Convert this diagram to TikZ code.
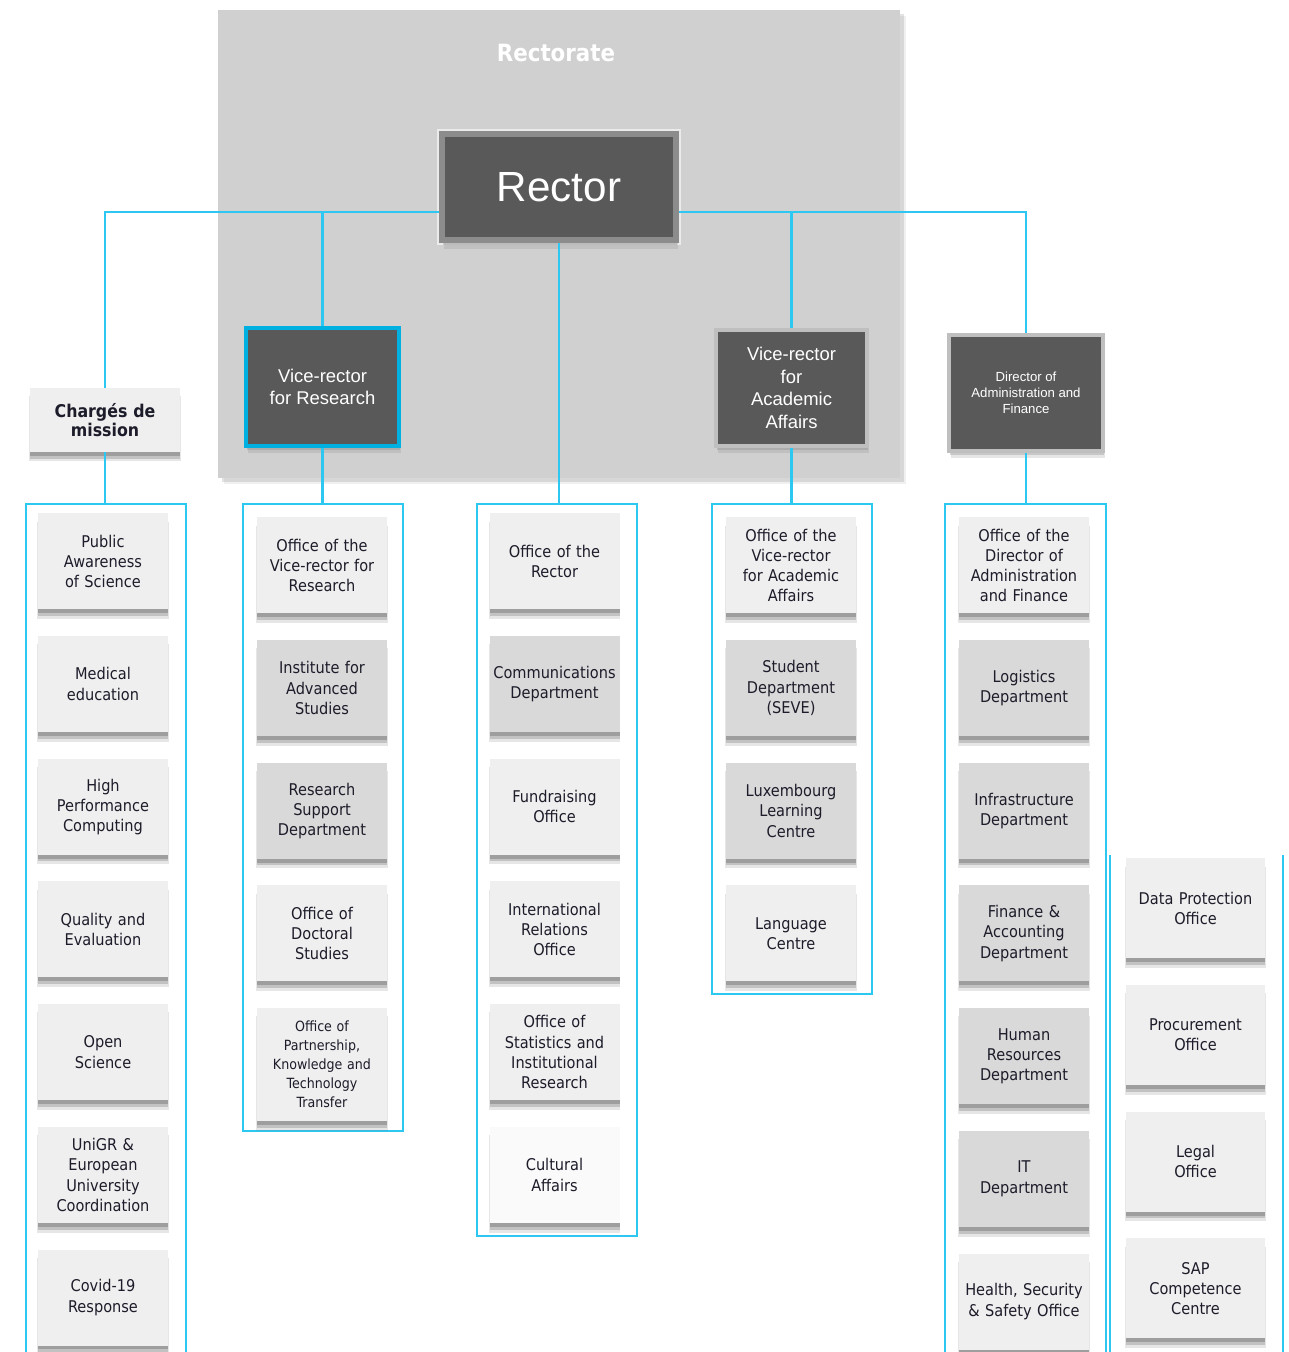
\documentclass[tikz,border=0pt]{standalone}
\usepackage{fontspec}
\setmainfont{DejaVu Sans Condensed}[BoldFont={DejaVu Sans Condensed Bold}]
\newfontfamily\arialfont{Liberation Sans}
\usetikzlibrary{positioning, shadows}
\definecolor{linkblue}{HTML}{2CC8F2}
\definecolor{vrblue}{HTML}{00B0E0}
\definecolor{darkfill}{HTML}{595959}
\definecolor{headgray}{HTML}{BFBFBF}
\definecolor{rectorgray}{HTML}{8C8C8C}
\definecolor{rectgray}{HTML}{D0D0D0}
\definecolor{unitlight}{HTML}{EFEFEF}
\definecolor{unitdark}{HTML}{D9D9D9}
\definecolor{unitwhite}{HTML}{FAFAFA}
\definecolor{unittext}{HTML}{1C1C2A}

\begin{document}
\begin{tikzpicture}[
  softshadow/.style={
    drop shadow={shadow xshift=0pt, shadow yshift=-5pt, shadow scale=1.015, opacity=.2},
    drop shadow={shadow xshift=0pt, shadow yshift=-3.8pt, opacity=.35},
    drop shadow={shadow xshift=0pt, shadow yshift=-2.2pt, opacity=.55}},
  unit/.style={rectangle, fill=unitlight, minimum width=2.6cm, minimum height=1.92cm,
    text width=2.6cm, inner sep=0pt, align=center, text=unittext,
    font=\fontsize{9.2}{11.5}\selectfont, softshadow},
  unitd/.style={unit, fill=unitdark},
  unitw/.style={unit, fill=unitwhite},
  side/.style={unit, minimum width=2.78cm, text width=2.78cm, minimum height=2cm},
  head/.style={rectangle, fill=darkfill, draw=headgray, line width=2pt, text=white,
    align=center, font=\arialfont\fontsize{10.5}{12.8}\selectfont,
    drop shadow={shadow xshift=1pt, shadow yshift=-4pt, opacity=.2},
    drop shadow={shadow xshift=.5pt, shadow yshift=-2.5pt, opacity=.3}},
  group/.style={draw=linkblue, line width=1.2pt, minimum width=3.2cm, anchor=north},
  link/.style={draw=linkblue, line width=1.2pt},
  node distance=0.52cm
]
\useasboundingbox (0,0) rectangle (25.78,-27.04);

\node[fill=rectgray, minimum width=13.64cm, minimum height=9.36cm,
  drop shadow={shadow xshift=3.5pt, shadow yshift=-3.5pt, opacity=.12},
  drop shadow={shadow xshift=2pt, shadow yshift=-2pt, opacity=.22}] (rectorate) at (11.18,-4.88) {};
\node[text=white, font=\bfseries\fontsize{13.5}{16}\selectfont] (rtitle) at (11.12,-1.06) {Rectorate};

\node[fill=darkfill, draw=rectorgray, line width=3.6pt, preaction={draw=white!92!black, line width=5.8pt},
  minimum width=4.68cm, minimum height=2.12cm, text=white, font=\arialfont\fontsize{24}{28}\selectfont,
  drop shadow={shadow xshift=1pt, shadow yshift=-5pt, opacity=.2},
  drop shadow={shadow xshift=.5pt, shadow yshift=-3pt, opacity=.3}] (rector) at (11.18,-3.74) {Rector};

\node[head, draw=vrblue, line width=2.4pt, minimum width=3.06cm, minimum height=2.36cm] (vrr) at (6.45,-7.74) {Vice-rector\\for Research};
\node[head, minimum width=3.02cm, minimum height=2.32cm] (vra) at (15.83,-7.76) {Vice-rector\\for\\Academic\\Affairs};
\node[head, minimum width=3.08cm, minimum height=2.32cm, font=\arialfont\fontsize{7.5}{9.1}\selectfont] (dir) at (20.52,-7.86) {Director of\\Administration and\\Finance};
\node[unit, minimum width=3cm, minimum height=1.28cm, text width=3cm, font=\bfseries\fontsize{10}{10.5}\selectfont] (charges) at (2.1,-8.4) {Chargés de\\mission};

\node[group, minimum height=17.4cm] (g1) at (2.12,-10.06) {};
\node[group, minimum height=12.54cm] (g2) at (6.46,-10.06) {};
\node[group, minimum height=14.64cm] (g3) at (11.14,-10.06) {};
\node[group, minimum height=9.8cm] (g4) at (15.84,-10.06) {};
\node[group, minimum width=3.22cm, minimum height=17.4cm] (g5) at (20.51,-10.06) {};
\coordinate (g6l) at (22.2,-17.1);
\coordinate (g6r) at (25.66,-17.1);
\coordinate (g6b) at (0,-27.4);

\node[unit, anchor=north] (pas) at (2.06,-10.26) {Public\\Awareness\\of Science};
\node[unit, below=of pas] (med) {Medical\\education};
\node[unit, below=of med] (hpc) {High\\Performance\\Computing};
\node[unit, below=of hpc] (qual) {Quality and\\Evaluation};
\node[unit, below=of qual] (open) {Open\\Science};
\node[unit, below=of open] (unigr) {UniGR \&\\European\\University\\Coordination};
\node[unit, below=of unigr] (covid) {Covid-19\\Response};

\node[unit, anchor=north] (ovrr) at (6.44,-10.34) {Office of the\\Vice-rector for\\Research};
\node[unitd, below=of ovrr] (ias) {Institute for\\Advanced\\Studies};
\node[unitd, below=of ias] (rsd) {Research\\Support\\Department};
\node[unit, below=of rsd] (ods) {Office of\\Doctoral\\Studies};
\node[unit, below=of ods, minimum height=2.26cm, font=\fontsize{8}{10.8}\selectfont] (opkt) {Office of\\Partnership,\\Knowledge and\\Technology\\Transfer};

\node[unit, anchor=north] (orect) at (11.09,-10.26) {Office of the\\Rector};
\node[unitd, below=of orect] (comm) {Communications\\Department};
\node[unit, below=of comm] (fund) {Fundraising\\Office};
\node[unit, below=of fund] (iro) {International\\Relations\\Office};
\node[unit, below=of iro] (osir) {Office of\\Statistics and\\Institutional\\Research};
\node[unitw, below=of osir] (cult) {Cultural\\Affairs};

\node[unit, anchor=north] (ovra) at (15.82,-10.34) {Office of the\\Vice-rector\\for Academic\\Affairs};
\node[unitd, below=of ovra] (seve) {Student\\Department\\(SEVE)};
\node[unitd, below=of seve] (llc) {Luxembourg\\Learning\\Centre};
\node[unit, below=of llc] (lang) {Language\\Centre};

\node[unit, anchor=north] (odaf) at (20.48,-10.34) {Office of the\\Director of\\Administration\\and Finance};
\node[unitd, below=of odaf] (logi) {Logistics\\Department};
\node[unitd, below=of logi] (infra) {Infrastructure\\Department};
\node[unitd, below=of infra] (fin) {Finance \&\\Accounting\\Department};
\node[unitd, below=of fin] (hr) {Human\\Resources\\Department};
\node[unitd, below=of hr] (it) {IT\\Department};
\node[unit, below=of it] (hss) {Health, Security\\\& Safety Office};

\node[side, anchor=north] (dpo) at (23.91,-17.16) {Data Protection\\Office};
\node[side, below=of dpo] (proc) {Procurement\\Office};
\node[side, below=of proc] (legal) {Legal\\Office};
\node[side, below=of legal] (sap) {SAP\\Competence\\Centre};

\coordinate (bus) at (0,-4.24);
\draw[link] (charges.north) |- (rector.west |- bus);
\draw[link] (dir.north) |- (rector.east |- bus);
\draw[link] (vrr.north) -- (vrr.north |- bus);
\draw[link] (vra.north) -- (vra.north |- bus);
\draw[link] (rector.south) -- (rector.south |- g3.north);
\draw[link] (charges.south) -- (charges.south |- g1.north);
\draw[link] (vrr.south) -- (vrr.south |- g2.north);
\draw[link] (vra.south) -- (vra.south |- g4.north);
\draw[link] (dir.south) -- (dir.south |- g5.north);
\draw[link] (g6l) -- (g6l |- g6b);
\draw[link] (g6r) -- (g6r |- g6b);
\end{tikzpicture}
\end{document}
